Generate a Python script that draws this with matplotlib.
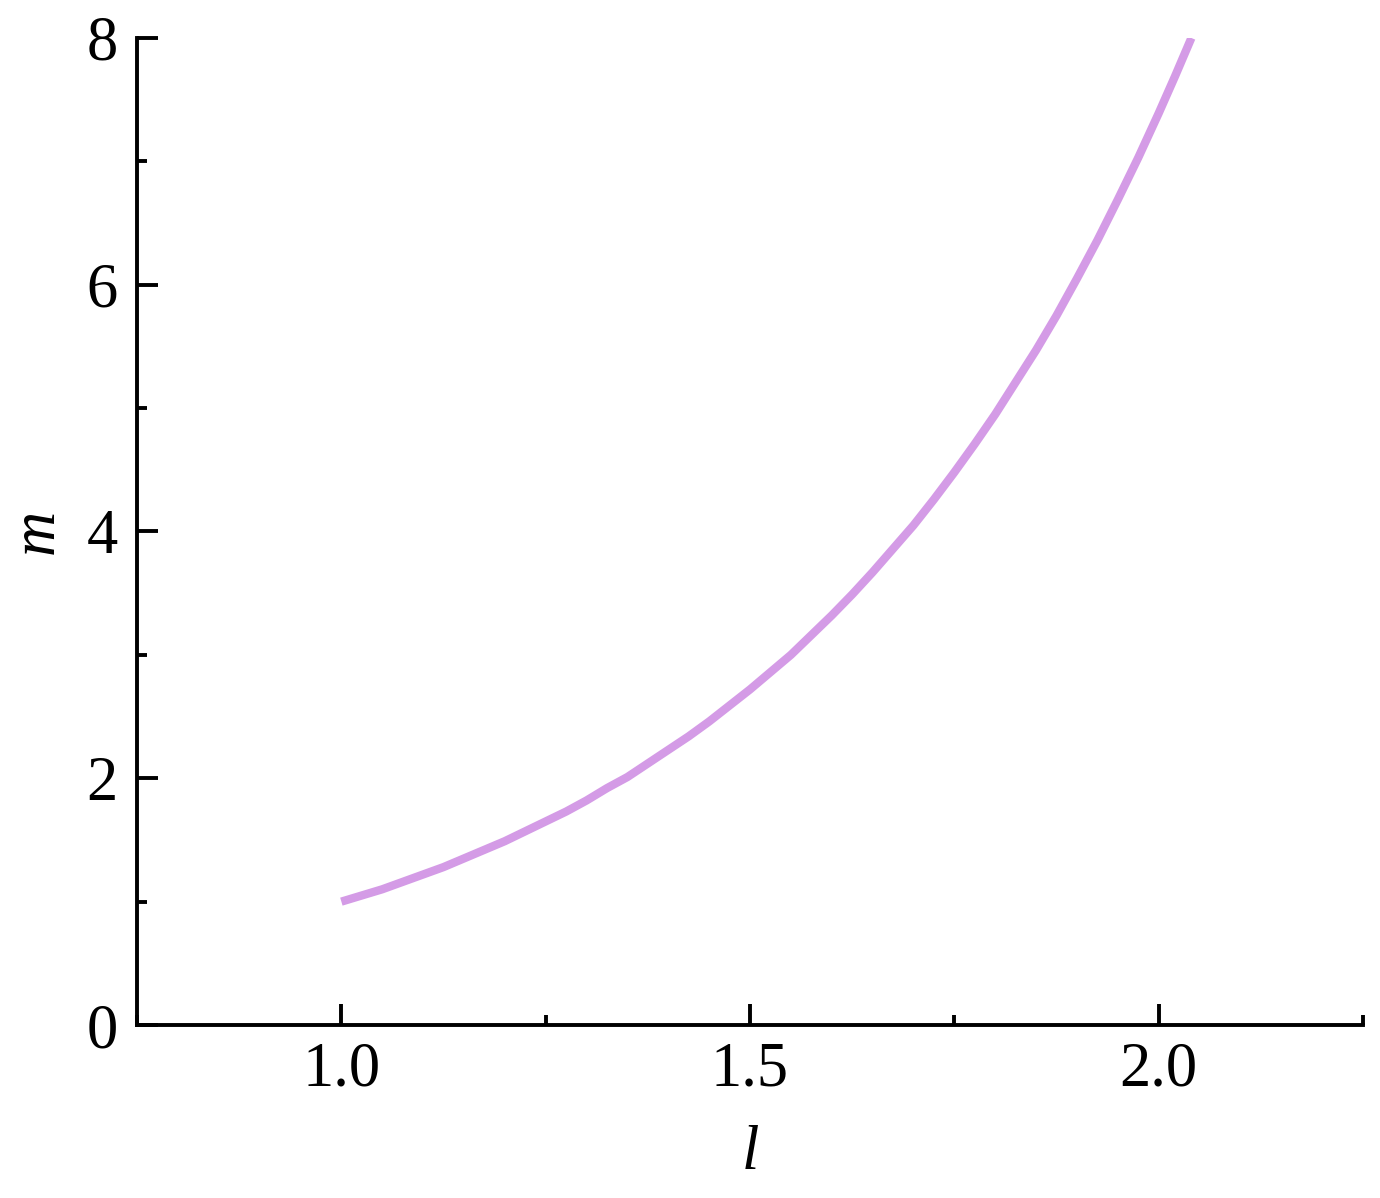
import matplotlib
matplotlib.use('Agg')
import matplotlib.pyplot as plt
from matplotlib.ticker import MultipleLocator

# values
l = [1.000, 1.025, 1.050, 1.075, 1.100, 1.125, 1.150, 1.175, 1.200, 1.225,
     1.250, 1.275, 1.300, 1.325, 1.350, 1.375, 1.400, 1.425, 1.450, 1.475,
     1.500, 1.525, 1.550, 1.575, 1.600, 1.625, 1.650, 1.675, 1.700, 1.725,
     1.750, 1.775, 1.800, 1.825, 1.850, 1.875, 1.900, 1.925, 1.950, 1.975,
     2.000, 2.020, 2.040]
m = [1.00, 1.05, 1.10, 1.16, 1.22, 1.28, 1.35, 1.42, 1.49, 1.57,
     1.65, 1.73, 1.82, 1.92, 2.01, 2.12, 2.23, 2.34, 2.46, 2.59,
     2.72, 2.86, 3.00, 3.16, 3.32, 3.49, 3.67, 3.86, 4.05, 4.26,
     4.48, 4.71, 4.95, 5.21, 5.47, 5.75, 6.05, 6.36, 6.69, 7.03,
     7.39, 7.69, 8.00]

plt.rcParams['font.family'] = ['Liberation Serif', 'DejaVu Serif']

fig = plt.figure(figsize=(13.8, 11.98), dpi=100)
ax = fig.add_axes([0.0993, 0.1444, 0.8884, 0.8239])

ax.plot(l, m, color='#D49BE6', lw=6, solid_capstyle='butt')

ax.set_xlim(0.75, 2.25)
ax.set_ylim(0, 8)
ax.xaxis.set_minor_locator(MultipleLocator(0.25))
ax.yaxis.set_major_locator(MultipleLocator(2))
ax.yaxis.set_minor_locator(MultipleLocator(1))
ax.set_xticks([1.0, 1.5, 2.0])
ax.set_xticklabels(['1.0', '1.5', '2.0'])

for s in ['top', 'right']:
    ax.spines[s].set_visible(False)
for s in ['left', 'bottom']:
    ax.spines[s].set_linewidth(2.8)

ax.tick_params(which='both', direction='in', width=2.8, labelsize=45)
ax.tick_params(which='major', length=15)
ax.tick_params(which='minor', length=7.5)
ax.tick_params(axis='x', pad=12)
ax.tick_params(axis='y', pad=14)

ax.set_xlabel('l', fontsize=45, style='italic', labelpad=18)
ax.set_ylabel('m', fontsize=45, style='italic', labelpad=14)

fig.savefig('out.png', dpi=100)
